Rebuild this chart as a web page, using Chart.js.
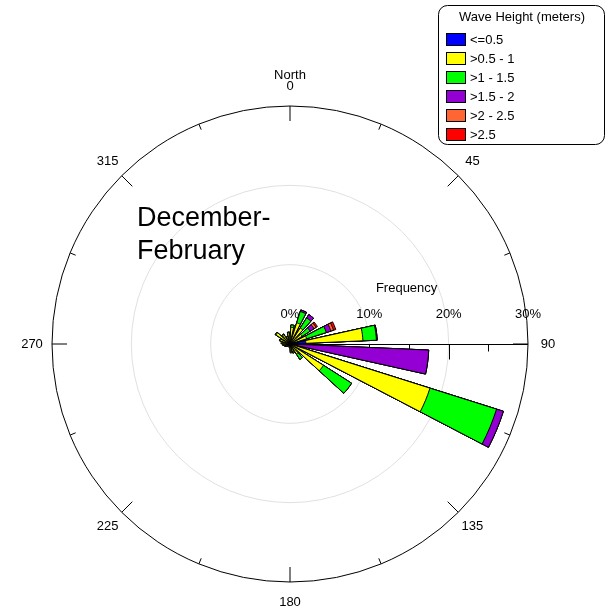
<!DOCTYPE html>
<html>
<head>
<meta charset="utf-8">
<script src="https://cdn.jsdelivr.net/npm/chart.js@4/dist/chart.umd.min.js"></script>
<style>
  html, body { margin: 0; padding: 0; background: #fff; }
  canvas { display: block; }
</style>
</head>
<body>
<canvas id="rose" width="605" height="611"></canvas>
<script>
// direction bin centres (degrees from north, 15 degree bins)
const directions = [7.5, 22.5, 37.5, 52.5, 67.5, 82.5, 97.5, 112.5, 127.5, 142.5, 157.5, 172.5,
                    187.5, 202.5, 217.5, 232.5, 247.5, 262.5, 277.5, 292.5, 307.5, 322.5, 337.5, 352.5];

// frequency (%) per wave height class, one value per direction bin
const hLe05   = [0.1, 0.1, 0.1, 0.1, 0.1, 2.0, 0.1, 0.3, 0.1, 0.1, 0.1, 0.1, 0.1, 0.1, 0.1, 0.1, 0.1, 0.1, 0.1, 0.2, 0.2, 0.2, 0.1, 0.1];
const h05to1  = [2.0, 2.7, 2.3, 1.7, 2.1, 7.2, 0.2, 18.2, 4.9, 1.4, 0.9, 1.0, 0.3, 0.2, 0.3, 0.4, 0.6, 0.8, 1.0, 1.1, 1.9, 1.2, 0.9, 1.3];
const h1to15  = [0.3, 1.5, 1.5, 1.2, 2.6, 1.7, 0.3, 8.8, 4.2, 0.8, 0.2, 0, 0, 0, 0, 0, 0, 0, 0, 0.1, 0.1, 0.1, 0, 0.1];
const h15to2  = [0, 0.2, 0.5, 0.6, 0.6, 0.1, 16.9, 0.9, 0, 0, 0, 0, 0, 0, 0, 0, 0, 0, 0, 0, 0, 0, 0, 0];
const h2to25  = [0, 0, 0, 0.3, 0.35, 0, 0, 0, 0, 0, 0, 0, 0, 0, 0, 0, 0, 0, 0, 0, 0, 0, 0, 0];
const hOver25 = [0, 0, 0, 0.2, 0.3, 0, 0, 0, 0, 0, 0, 0, 0, 0, 0, 0, 0, 0, 0, 0, 0, 0, 0, 0];

const classLabels = ['<=0.5', '>0.5 - 1', '>1 - 1.5', '>1.5 - 2', '>2 - 2.5', '>2.5'];
const classColors = ['#0000ff', '#ffff00', '#00ff00', '#9400d3', '#ff6633', '#ff0000'];

const compassLabels = ['0', '45', '90', '135', '180', '225', '270', '315'];
const freqTicks = [0, 10, 20, 30];

const FONT = 'Arial, "Liberation Sans", sans-serif';
const BIN = 15, WEDGE = 10;

// stack the classes: each dataset holds the running total, drawn from the center
const series = [hLe05, h05to1, h1to15, h15to2, h2to25, hOver25];
const running = directions.map(() => 0);
const datasets = series.map((vals, k) => {
  const data = [];
  vals.forEach((v, i) => {
    running[i] += v;
    data.push(+running[i].toFixed(3), 0); // wedge + gap
  });
  return {
    label: classLabels[k],
    data: data,
    backgroundColor: classColors[k],
    borderColor: '#000',
    borderWidth: ctx => ctx.dataIndex % 2 ? 0 : 1,
    angle: ctx => ctx.dataIndex % 2 ? BIN - WEDGE : WEDGE
  };
});
const labels = [];
directions.forEach(d => labels.push(String(d), ''));

function polar(scale, deg, r) {
  const a = deg * Math.PI / 180;
  return [scale.xCenter + r * Math.sin(a), scale.yCenter - r * Math.cos(a)];
}

const roseDecor = {
  id: 'roseDecor',
  beforeDatasetsDraw(chart) {
    const s = chart.scales.r, ctx = chart.ctx;
    const R = s.getDistanceFromCenterForValue(30);
    const y = s.yCenter + 0.5;
    ctx.save();
    ctx.strokeStyle = '#000';
    ctx.lineWidth = 1;
    ctx.beginPath();
    ctx.moveTo(s.xCenter, y);
    ctx.lineTo(s.xCenter + R, y);
    for (let v = 5; v < 30; v += 5) {
      const x = Math.round(s.xCenter + s.getDistanceFromCenterForValue(v)) + 0.5;
      ctx.moveTo(x, y);
      ctx.lineTo(x, y + (v % 10 === 0 ? 15 : 7));
    }
    ctx.stroke();
    ctx.restore();
  },
  afterDraw(chart) {
    const s = chart.scales.r, ctx = chart.ctx;
    const R = s.getDistanceFromCenterForValue(30);
    ctx.save();
    ctx.strokeStyle = '#000';
    ctx.lineWidth = 1;
    ctx.beginPath();
    for (let d = 0; d < 360; d += 22.5) {
      const len = d % 45 === 0 ? 15 : 6;
      const p1 = polar(s, d, R), p2 = polar(s, d, R - len);
      ctx.moveTo(p1[0], p1[1]);
      ctx.lineTo(p2[0], p2[1]);
    }
    ctx.stroke();

    ctx.fillStyle = '#000';
    ctx.font = '13px ' + FONT;
    ctx.textAlign = 'center';
    ctx.textBaseline = 'middle';
    compassLabels.forEach((t, i) => {
      const p = polar(s, i * 45, R + 20);
      ctx.fillText(t, p[0], p[1]);
    });
    ctx.fillText('North', s.xCenter, s.yCenter - R - 31);

    // frequency labels along the 90 degree axis
    freqTicks.forEach(v => {
      ctx.fillText(v + '%', s.xCenter + s.getDistanceFromCenterForValue(v), s.yCenter - 30);
    });
    ctx.fillText('Frequency', s.xCenter + s.getDistanceFromCenterForValue(14.7), s.yCenter - 56);

    // season title
    ctx.textAlign = 'left';
    ctx.textBaseline = 'alphabetic';
    ctx.font = '27px ' + FONT;
    ctx.fillText('December-', 137, 226);
    ctx.fillText('February', 137, 259);

    // legend box
    ctx.beginPath();
    ctx.roundRect(438.5, 5.5, 166, 139, 9);
    ctx.fillStyle = '#fff';
    ctx.fill();
    ctx.stroke();
    ctx.fillStyle = '#000';
    ctx.font = '13px ' + FONT;
    ctx.textAlign = 'center';
    ctx.textBaseline = 'middle';
    ctx.fillText('Wave Height (meters)', 522, 17);
    ctx.textAlign = 'left';
    classLabels.forEach((t, i) => {
      const y = 40 + i * 19;
      ctx.fillStyle = classColors[i];
      ctx.fillRect(446.5, y - 6.5, 19, 12);
      ctx.strokeRect(446.5, y - 6.5, 19, 12);
      ctx.fillStyle = '#000';
      ctx.fillText(t, 470, y);
    });
    ctx.restore();
  }
};

new Chart(document.getElementById('rose'), {
  type: 'polarArea',
  data: { labels: labels, datasets: datasets },
  options: {
    responsive: false,
    animation: false,
    layout: { padding: { left: 52, right: 77, top: 106, bottom: 29 } },
    plugins: { legend: { display: false }, tooltip: { enabled: false } },
    scales: {
      r: {
        min: 0,
        max: 30,
        startAngle: (BIN - WEDGE) / 2,
        ticks: { display: false, stepSize: 10 },
        grid: {
          circular: true,
          color: ctx => ctx.tick && ctx.tick.value >= 30 ? '#000' : '#e0e0e0',
          lineWidth: 1
        },
        angleLines: { display: false },
        pointLabels: { display: false }
      }
    }
  },
  plugins: [roseDecor]
});
</script>
</body>
</html>
